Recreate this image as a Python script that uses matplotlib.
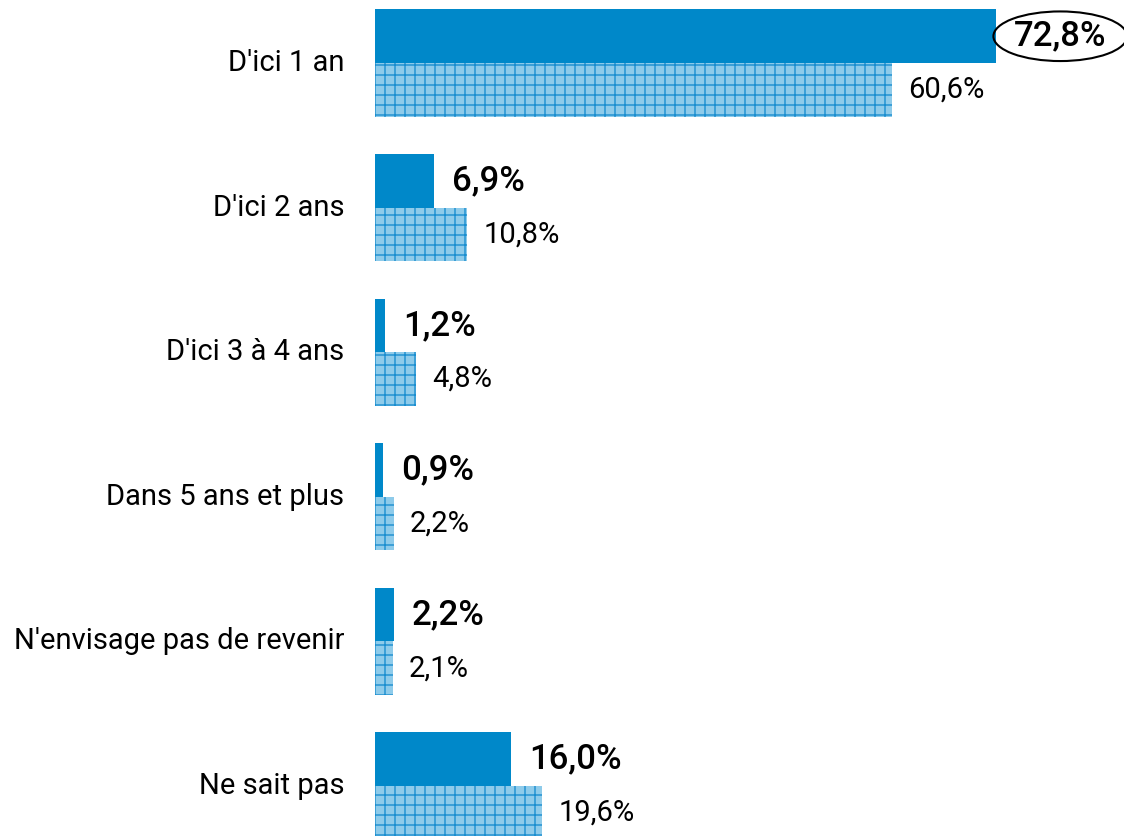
import matplotlib
matplotlib.use("Agg")
import matplotlib.pyplot as plt

categories = ["D'ici 1 an", "D'ici 2 ans", "D'ici 3 à 4 ans", "Dans 5 ans et plus",
              "N'envisage pas de revenir", "Ne sait pas"]
series_a = [72.8, 6.9, 1.2, 0.9, 2.2, 16.0]
series_b = [60.6, 10.8, 4.8, 2.2, 2.1, 19.6]
labels_a = ["72,8%", "6,9%", "1,2%", "0,9%", "2,2%", "16,0%"]
labels_b = ["60,6%", "10,8%", "4,8%", "2,2%", "2,1%", "19,6%"]

DPI = 120
s = 100 / DPI  # point-size scale so sizes match a 100-dpi layout

plt.rcParams['font.family'] = ['Roboto', 'DejaVu Sans']
plt.rcParams['hatch.linewidth'] = 1.0 * s
plt.rcParams['hatch.color'] = '#1a8ed0'

fig = plt.figure(figsize=(1124 / DPI, 836 / DPI), dpi=DPI)
ax = fig.add_axes([375 / 1124, 0, 749 / 1124, 1])

h = 0.37
ys = list(range(len(categories)))
ya = [y - h / 2 for y in ys]
yb = [y + h / 2 for y in ys]
ax.barh(ya, series_a, height=h, color='#0088c9', edgecolor='none')
ax.barh(yb, series_b, height=h, color='#8ecbea', edgecolor='#1a8ed0', linewidth=0, hatch='++')

for i, (va, vb) in enumerate(zip(series_a, series_b)):
    kw = {}
    if i == 0:
        kw['bbox'] = dict(boxstyle='ellipse,pad=0.03', fc='none', ec='black', lw=1.5 * s)
    ax.annotate(labels_a[i], (va, ya[i]), xytext=(13 * s, 0), textcoords='offset points',
                ha='left', va='center', fontsize=25 * s, fontweight='medium', color='black', **kw)
    ax.annotate(labels_b[i], (vb, yb[i]), xytext=(11.5 * s, 0), textcoords='offset points',
                ha='left', va='center', fontsize=21 * s, color='black')
    ax.annotate(categories[i], (0, ys[i]), xytext=(-22 * s, 0), textcoords='offset points',
                ha='right', va='center', fontsize=21 * s, color='black', annotation_clip=False)

ax.set_xlim(0, 749 / 8.53)
ax.set_ylim((836 - 63) / 144.6, -63 / 144.6)
ax.axis('off')

fig.savefig('out.png', dpi=DPI)
